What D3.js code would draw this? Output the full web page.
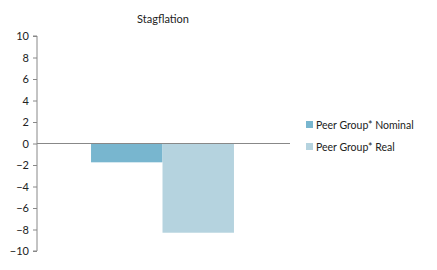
<!DOCTYPE html>
<html>
<head>
<meta charset="utf-8">
<script src="https://cdn.jsdelivr.net/npm/d3@7"></script>
<style>
  body { margin: 0; background: #fff; }
  text { font-family: Lato, "Open Sans", sans-serif; fill: #222; }
</style>
</head>
<body>
<svg id="chart" width="437" height="270"></svg>
<script>
const categories = ['Stagflation'];
const series = ['Peer Group* Nominal', 'Peer Group* Real'];
const values = [-1.75, -8.3];
const colors = ['#78b6cf', '#b5d3df'];
const yTicks = [10, 8, 6, 4, 2, 0, -2, -4, -6, -8, -10];

const svg = d3.select('#chart');
const plotLeft = 37, plotRight = 288, plotTop = 36, plotBottom = 251;

const x = d3.scaleBand().domain(categories).range([plotLeft, plotRight]).paddingInner(0).paddingOuter(0.378);
const x1 = d3.scaleBand().domain(series).range([0, x.bandwidth()]).padding(0);
const y = d3.scaleLinear().domain([-10, 10]).range([plotBottom, plotTop]);

// title
svg.append('text')
  .attr('x', 163).attr('y', 23)
  .attr('text-anchor', 'middle')
  .style('font-size', '11px')
  .text('Stagflation');

// bars
svg.append('g')
  .selectAll('rect')
  .data(values)
  .join('rect')
  .attr('x', (d, i) => x(categories[0]) + x1(series[i]))
  .attr('width', x1.bandwidth())
  .attr('y', (d) => y(Math.max(0, d)))
  .attr('height', (d) => Math.abs(y(d) - y(0)))
  .attr('fill', (d, i) => colors[i]);

// y axis
const yAxis = svg.append('g')
  .attr('transform', `translate(${plotLeft},0)`)
  .call(d3.axisLeft(y).tickValues(yTicks).tickSize(4).tickFormat(d3.format('d')));
yAxis.select('.domain').attr('stroke', '#888').attr('d', `M-4,${y(10)}H0V${y(-10)}H-4`);
yAxis.selectAll('.tick line').attr('stroke', '#888');
yAxis.selectAll('.tick text').style('font-size', '11px').attr('fill', '#222').attr('x', -8);

// zero line
svg.append('line')
  .attr('x1', plotLeft).attr('x2', plotRight + 2)
  .attr('y1', y(0)).attr('y2', y(0))
  .attr('stroke', '#888');

// legend
const legend = svg.append('g')
  .selectAll('g')
  .data(series)
  .join('g')
  .attr('transform', (d, i) => `translate(306,${121 + i * 22})`);
legend.append('rect').attr('width', 7).attr('height', 7).attr('fill', (d, i) => colors[i]);
legend.append('text')
  .attr('x', 10).attr('y', 7.5)
  .style('font-size', '10.5px')
  .text((d) => d);
</script>
</body>
</html>
